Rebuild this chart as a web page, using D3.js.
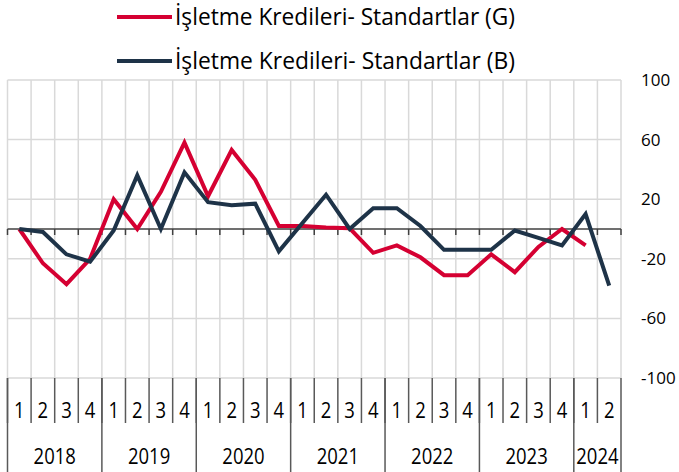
<!DOCTYPE html>
<html>
<head>
<meta charset="utf-8">
<script src="https://cdn.jsdelivr.net/npm/d3@7"></script>
<style>
  body { margin: 0; background: #fff; }
  svg { font-family: "Open Sans", sans-serif; }
</style>
</head>
<body>
<svg id="chart"></svg>
<script>
// data
let years = ["2018", "2019", "2020", "2021", "2022", "2023", "2024"];
let quartersPerYear = [4, 4, 4, 4, 4, 4, 2];
let yTicks = [100, 60, 20, -20, -60, -100];
let seriesNames = ["İşletme Kredileri- Standartlar (G)", "İşletme Kredileri- Standartlar (B)"];
let seriesG = [0, -23, -37, -20, 20, 0, 25, 58, 22, 53, 33, 2, 2, 1, 0.5, -16, -11, -19, -31, -31, -17, -29, -12, 0, -11];
let seriesB = [0, -2, -17, -22, -1, 36, 0, 38, 18, 16, 17, -15, 4, 23, 0, 14, 14, 2, -14, -14, -14, -1, -6, -11, 10, -38];
let colors = ["#d50032", "#1e3348"];

let quarters = [];
years.forEach(function(y, i) {
  for (let q = 1; q <= quartersPerYear[i]; q++) {
    quarters.push({ key: y + "Q" + q, year: y, label: String(q) });
  }
});

let svg = d3.select("svg#chart").attr("width", 679).attr("height", 472);

let xScale = d3.scaleBand().domain(quarters.map(d => d.key)).range([7.5, 621]);
let yScale = d3.scaleLinear().domain([-100, 100]).range([378, 80]);
let bw = xScale.bandwidth();

// horizontal gridlines
svg.append("g")
  .selectAll("line").data(yTicks).join("line")
  .attr("x1", 7.5).attr("x2", 621)
  .attr("y1", d => yScale(d)).attr("y2", d => yScale(d))
  .attr("stroke", "#d9d9d9").attr("stroke-width", 1.5);

// vertical gridlines at band edges
let edges = quarters.map(d => xScale(d.key)).concat([xScale.range()[1]]);
svg.append("g")
  .selectAll("line").data(edges).join("line")
  .attr("x1", d => d).attr("x2", d => d)
  .attr("y1", yScale(100)).attr("y2", yScale(-100))
  .attr("stroke", "#d9d9d9").attr("stroke-width", 1.5);

// zero line with ticks
svg.append("line")
  .attr("x1", 7.5).attr("x2", 621)
  .attr("y1", yScale(0)).attr("y2", yScale(0))
  .attr("stroke", "#404040").attr("stroke-width", 1.5);
svg.append("g")
  .selectAll("line").data(edges).join("line")
  .attr("x1", d => d).attr("x2", d => d)
  .attr("y1", yScale(0)).attr("y2", yScale(0) + 6)
  .attr("stroke", "#404040").attr("stroke-width", 1.5);

// right axis labels
svg.append("g")
  .selectAll("text").data(yTicks).join("text")
  .attr("x", 641).attr("y", d => yScale(d))
  .attr("dy", "0.35em")
  .style("font-size", "17px").attr("fill", "#000")
  .text(d => d);

// category axis
let yearStarts = [];
let idx = 0;
years.forEach(function(y, i) {
  yearStarts.push({ year: y, x0: xScale(quarters[idx].key), x1: xScale(quarters[idx + quartersPerYear[i] - 1].key) + bw });
  idx += quartersPerYear[i];
});
let axisG = svg.append("g");
axisG.selectAll("line.q").data(quarters).join("line")
  .attr("class", "q")
  .attr("x1", d => xScale(d.key)).attr("x2", d => xScale(d.key))
  .attr("y1", 378).attr("y2", 423)
  .attr("stroke", "#595959").attr("stroke-width", 1.5);
axisG.selectAll("line.y").data(yearStarts.map(d => d.x0).concat([xScale.range()[1]])).join("line")
  .attr("class", "y")
  .attr("x1", d => d).attr("x2", d => d)
  .attr("y1", 378).attr("y2", 472)
  .attr("stroke", "#595959").attr("stroke-width", 1.5);
axisG.selectAll("text.ql").data(quarters).join("text")
  .attr("class", "ql")
  .attr("transform", d => "translate(" + (xScale(d.key) + bw / 2) + ",418) scale(0.88,1)")
  .attr("text-anchor", "middle")
  .style("font-size", "21px")
  .text(d => d.label);
axisG.selectAll("text.yl").data(yearStarts).join("text")
  .attr("class", "yl")
  .attr("transform", d => "translate(" + ((d.x0 + d.x1) / 2) + ",464) scale(0.88,1)")
  .attr("text-anchor", "middle")
  .style("font-size", "21px")
  .text(d => d.year);

// series lines
let line = d3.line()
  .x((d, i) => xScale(quarters[i].key) + bw / 2)
  .y(d => yScale(d));
[seriesG, seriesB].forEach(function(s, i) {
  svg.append("path").datum(s)
    .attr("d", line)
    .attr("fill", "none")
    .attr("stroke", colors[i])
    .attr("stroke-width", 4)
    .attr("stroke-linejoin", "miter");
});

// legend
let legendY = [17, 61];
seriesNames.forEach(function(name, i) {
  svg.append("line")
    .attr("x1", 117).attr("x2", 172)
    .attr("y1", legendY[i]).attr("y2", legendY[i])
    .attr("stroke", colors[i]).attr("stroke-width", 4);
  svg.append("text")
    .attr("x", 175).attr("y", legendY[i] + 8)
    .attr("textLength", 340).attr("lengthAdjust", "spacingAndGlyphs")
    .style("font-size", "23px")
    .text(name);
});
</script>
</body>
</html>
